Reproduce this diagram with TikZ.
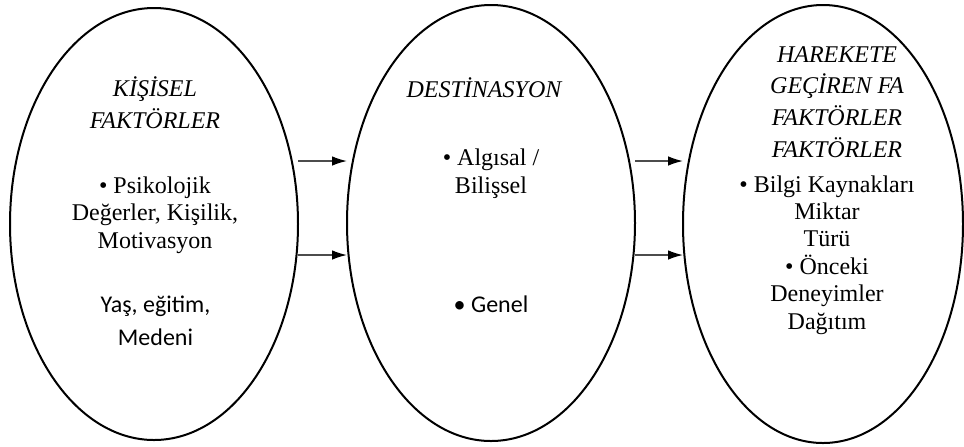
\documentclass[tikz,border=0pt]{standalone}
\usepackage{fontspec}
\setmainfont{Liberation Serif}
\newfontfamily\calibri{Carlito}
\usetikzlibrary{shapes.geometric,arrows.meta,calc}

\begin{document}
\begin{tikzpicture}[
		x=0.5pt, y=-0.5pt,
		elips/.style={
			draw,
			ellipse,
			inner sep=0pt,
			outer sep=0pt,
			line width=1pt
		},
		baslik/.style={
			align=center,
			anchor=base,
			inner sep=0pt,
			font={\fontsize{12pt}{15.8pt}\selectfont\itshape}
		},
		metin/.style={
			align=center,
			anchor=base,
			inner sep=0pt,
			font={\fontsize{12pt}{13.7pt}\selectfont}
		},
		metinc/.style={
			align=center,
			anchor=base,
			inner sep=0pt,
			font={\fontsize{12pt}{16.5pt}\calibri}
		},
		ok/.style={
			draw=black!70,
			line width=0.75pt,
			-{Latex[length=7.5pt,width=4.8pt,black]}
		}
		]
		\useasboundingbox (0,0) rectangle (964,446);
		
		\node[elips, minimum width=144pt, minimum height=216pt] (kisisel) at (154,224) {};
		\node[elips, minimum width=144pt, minimum height=218pt] (destinasyon) at (491,223) {};
		\node[elips, minimum width=140pt, minimum height=219pt] (harekete) at (823,224) {};
		
		% yazilar (base = son satir)
		\node[baslik] (kisiselB) at (155,128) {KİŞİSEL\\FAKTÖRLER};
		\node[metin] (psiko) at (155,248) {• Psikolojik\\Değerler, Kişilik,\\Motivasyon};
		\node[metinc] (yas) at (155.5,345) {Yaş, eğitim,\\Medeni};
		
		\node[baslik] (destB) at (484,97) {DESTİNASYON};
		\node[metin] (algisal) at (491,193) {• Algısal /\\Bilişsel};
		\node[metinc] (genel) at (491,312) {• Genel};
		
		\node[baslik] (hareketeB) at (837,157) {HAREKETE\\GEÇİREN FA\\FAKTÖRLER\\FAKTÖRLER};
		\node[metin] (bilgi) at (827,329) {• Bilgi Kaynakları\\Miktar\\Türü\\• Önceki\\Deneyimler\\Dağıtım};
		
		%Oklar
		\coordinate (k1) at ($(kisisel.east)+(0,-63)$);
		\coordinate (k2) at ($(kisisel.east)+(0,31)$);
		\coordinate (d1) at ($(destinasyon.east)+(0,-62)$);
		\coordinate (d2) at ($(destinasyon.east)+(0,32)$);
		\draw[ok] (k1) -- (destinasyon.west |- k1);
		\draw[ok] (k2) -- (destinasyon.west |- k2);
		\draw[ok] (d1) -- (harekete.west |- d1);
		\draw[ok] (d2) -- (harekete.west |- d2);
		
	\end{tikzpicture}
\end{document}
